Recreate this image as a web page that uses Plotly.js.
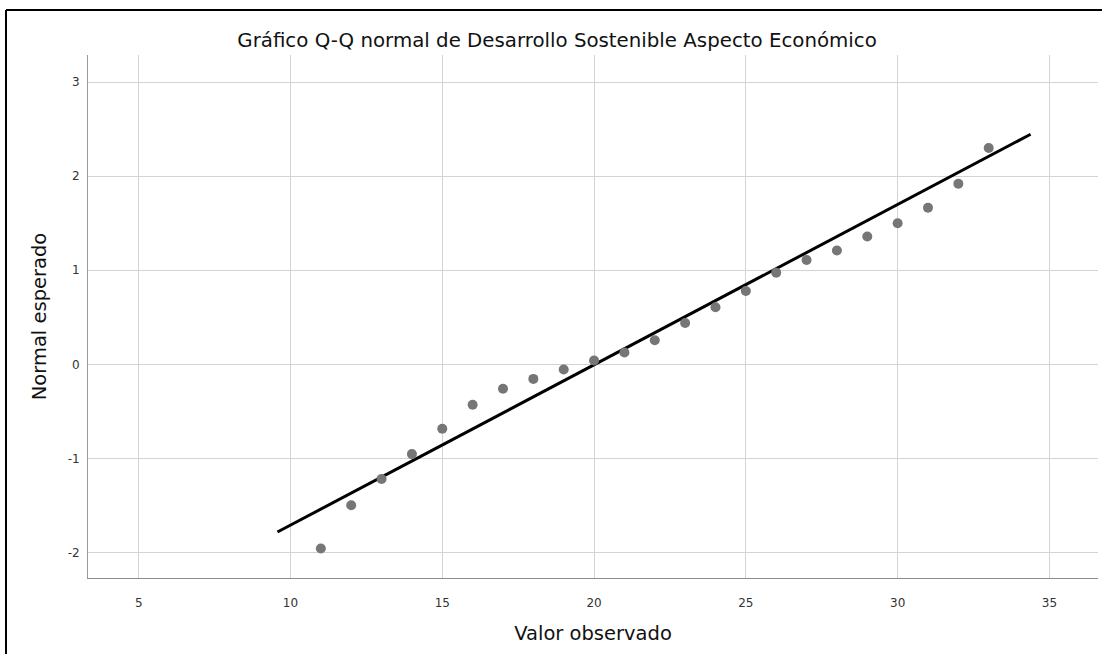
<!DOCTYPE html>
<html>
<head>
<meta charset="utf-8">
<script src="https://cdn.plot.ly/plotly-3.0.1.min.js"></script>
<style>
html,body{margin:0;padding:0;background:#fff;}
#chart{width:1102px;height:654px;}
</style>
</head>
<body>
<div id="chart"></div>
<script>
// Observed values (x) and expected normal values (y)
const observedValues = [11,12,13,14,15,16,17,18,19,20,21,22,23,24,25,26,27,28,29,30,31,32,33];
const expectedNormal = [-1.96,-1.50,-1.22,-0.955,-0.685,-0.43,-0.26,-0.155,-0.056,0.04,0.125,0.255,0.44,0.606,0.78,0.975,1.11,1.21,1.36,1.50,1.665,1.92,2.30];
// Reference line endpoints
const lineX = [9.57, 34.38];
const lineY = [-1.784, 2.447];
// Tick values
const xTicks = [5,10,15,20,25,30,35];
const yTicks = [-2,-1,0,1,2,3];

const titleText = 'Gráfico Q-Q normal de Desarrollo Sostenible Aspecto Económico';
const xTitle = 'Valor observado';
const yTitle = 'Normal esperado';

const font = 'DejaVu Sans, Liberation Sans, Arial, sans-serif';

const traces = [
  {
    x: lineX, y: lineY, type: 'scatter', mode: 'lines',
    line: {color: '#000000', width: 3}, hoverinfo: 'skip', showlegend: false
  },
  {
    x: observedValues, y: expectedNormal, type: 'scatter', mode: 'markers',
    marker: {color: '#767676', size: 10, line: {width: 0}}, showlegend: false
  }
];

const layout = {
  width: 1102, height: 654,
  margin: {l: 88, r: 4, t: 55, b: 76},
  paper_bgcolor: '#ffffff', plot_bgcolor: '#ffffff',
  font: {family: font, color: '#222'},
  title: {
    text: titleText, font: {family: font, size: 19.8, color: '#111'},
    xref: 'container', x: 0.5055, xanchor: 'center',
    yref: 'container', y: 1 - 40/654, yanchor: 'middle'
  },
  xaxis: {
    range: [3.33, 36.6], tickvals: xTicks, ticktext: xTicks.map(String),
    showgrid: true, gridcolor: '#d3d3d3', gridwidth: 1,
    zeroline: false, showline: true, linecolor: '#8c8c8c', linewidth: 1,
    ticks: 'outside', ticklen: 14, tickcolor: 'rgba(0,0,0,0)',
    tickfont: {family: font, size: 12, color: '#333'},
    title: {text: xTitle, font: {family: font, size: 19.5, color: '#111'}, standoff: 16},
    fixedrange: true
  },
  yaxis: {
    range: [-2.273, 3.29], tickvals: yTicks, ticktext: yTicks.map(String),
    showgrid: true, gridcolor: '#d3d3d3', gridwidth: 1,
    zeroline: false, showline: true, linecolor: '#9a9a9a', linewidth: 1,
    ticks: 'outside', ticklen: 5, tickcolor: 'rgba(0,0,0,0)',
    tickfont: {family: font, size: 12, color: '#333'},
    title: {text: yTitle, font: {family: font, size: 19.5, color: '#111'}, standoff: 15},
    fixedrange: true
  },
  shapes: [
    {type: 'line', xref: 'paper', yref: 'paper',
     x0: (6-88)/1010, x1: 1.02, y0: (578-10)/523, y1: (578-10)/523,
     line: {color: '#000', width: 2}},
    {type: 'line', xref: 'paper', yref: 'paper',
     x0: (6-88)/1010, x1: (6-88)/1010, y0: (578-10)/523, y1: -0.2,
     line: {color: '#000', width: 2}}
  ]
};

Plotly.newPlot('chart', traces, layout, {displayModeBar: false, staticPlot: true});
</script>
</body>
</html>
